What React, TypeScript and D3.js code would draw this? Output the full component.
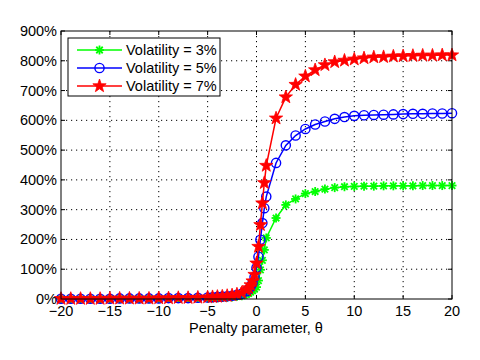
import React from 'react'
import * as d3 from 'd3'

// theta values (denser around zero)
const thetas = [
  -20, -19, -18, -17, -16, -15, -14, -13, -12, -11, -10, -9, -8, -7, -6, -5,
  -4.5, -4, -3.5, -3, -2.5, -2, -1.5, -1,
  -0.8, -0.6, -0.4, -0.2, 0, 0.2, 0.4, 0.6, 0.8, 1,
  2, 3, 4, 5, 6, 7, 8, 9, 10, 11, 12, 13, 14, 15, 16, 17, 18, 19, 20,
]

// values in percent
const vol3 = [
  0, 0, 0, 0, 0, 1, 1, 1, 1, 1, 1, 2, 2, 2, 3, 3,
  4, 4, 5, 6, 7, 9, 11, 16,
  19, 23, 28, 33, 40, 62, 98, 130, 165, 205,
  272, 316, 336, 354, 361, 369, 374, 377, 378, 379, 379, 380, 380, 380, 380, 381, 381, 381, 381,
]
const vol5 = [
  1, 1, 1, 1, 1, 1, 2, 2, 2, 2, 2, 3, 3, 3, 4, 5,
  6, 7, 8, 9, 11, 14, 18, 26,
  33, 42, 54, 74, 105, 142, 199, 255, 305, 344,
  457, 516, 549, 571, 586, 596, 605, 611, 615, 617, 618, 619, 620, 621, 622, 622, 623, 623, 624,
]
const vol7 = [
  1, 1, 1, 1, 1, 2, 2, 2, 2, 2, 3, 3, 4, 4, 5, 6,
  7, 8, 9, 11, 13, 16, 21, 30,
  37, 47, 60, 82, 120, 176, 249, 322, 390, 448,
  607, 678, 720, 748, 769, 786, 796, 801, 805, 809, 812, 813, 815, 816, 817, 818, 818, 819, 819,
]

const seriesNames = ['Volatility = 3%', 'Volatility = 5%', 'Volatility = 7%']
const seriesColors = ['#00ff00', '#0000ff', '#ff0000']
const xTicks = [-20, -15, -10, -5, 0, 5, 10, 15, 20]
const yTicks = [0, 100, 200, 300, 400, 500, 600, 700, 800, 900]

const font = 'Liberation Sans, Arial, Helvetica, sans-serif'

const starPath = (r: number) => {
  let pts: string[] = []
  for (let i = 0; i < 10; i++) {
    let rr = i % 2 === 0 ? r : r * 0.4
    let a = -Math.PI / 2 + (i * Math.PI) / 5
    pts.push(`${(rr * Math.cos(a)).toFixed(2)},${(rr * Math.sin(a)).toFixed(2)}`)
  }
  return 'M' + pts.join('L') + 'Z'
}

const Marker = ({ kind, x, y, color }: { kind: number; x: number; y: number; color: string }) => {
  if (kind === 0) {
    let r = 4.5
    let d = r * 0.72
    return (
      <g transform={`translate(${x},${y})`} stroke={color} strokeWidth={1.8}>
        <line x1={-r} y1={0} x2={r} y2={0} />
        <line x1={0} y1={-r} x2={0} y2={r} />
        <line x1={-d} y1={-d} x2={d} y2={d} />
        <line x1={-d} y1={d} x2={d} y2={-d} />
      </g>
    )
  }
  if (kind === 1) {
    return <circle cx={x} cy={y} r={4.6} fill="none" stroke={color} strokeWidth={1.4} />
  }
  return <path transform={`translate(${x},${y})`} d={starPath(7)} fill={color} stroke={color} strokeWidth={0.8} />
}

export default function App() {
  const width = 480
  const height = 360
  const left = 61, right = 452, top = 31, bottom = 299

  const x = d3.scaleLinear().domain([-20, 20]).range([left, right])
  const y = d3.scaleLinear().domain([0, 900]).range([bottom, top])

  const line = d3.line<number>()
    .x((d, i) => x(thetas[i]))
    .y((d) => y(d))

  const allSeries = [vol3, vol5, vol7]
  const fmtX = (v: number) => (v < 0 ? '\u2212' + Math.abs(v) : String(v))

  return (
    <svg width={width} height={height} style={{ position: 'absolute', left: 0, top: 0, background: '#fff' }}>
      <rect x={0} y={0} width={width} height={height} fill="#fff" />
      {/* grid */}
      <g stroke="#000" strokeWidth={1} strokeDasharray="1.2,3.8">
        {xTicks.slice(1, -1).map((t) => (
          <line key={'gx' + t} x1={x(t)} x2={x(t)} y1={top} y2={bottom} />
        ))}
        {yTicks.slice(1, -1).map((t) => (
          <line key={'gy' + t} x1={left} x2={right} y1={y(t)} y2={y(t)} />
        ))}
      </g>
      {/* ticks */}
      <g stroke="#000" strokeWidth={1}>
        {xTicks.map((t) => (
          <g key={'tx' + t}>
            <line x1={x(t)} x2={x(t)} y1={bottom} y2={bottom - 4} />
            <line x1={x(t)} x2={x(t)} y1={top} y2={top + 4} />
          </g>
        ))}
        {yTicks.map((t) => (
          <g key={'ty' + t}>
            <line x1={left} x2={left + 4} y1={y(t)} y2={y(t)} />
            <line x1={right} x2={right - 4} y1={y(t)} y2={y(t)} />
          </g>
        ))}
      </g>
      {/* series */}
      {allSeries.map((s, k) => (
        <g key={'s' + k}>
          <path d={line(s) || ''} fill="none" stroke={seriesColors[k]} strokeWidth={1.5} />
          {s.map((v, i) => (
            <Marker key={i} kind={k} x={x(thetas[i])} y={y(v)} color={seriesColors[k]} />
          ))}
        </g>
      ))}
      <rect x={left} y={top} width={right - left} height={bottom - top} fill="none" stroke="#000" strokeWidth={1} />
      {/* tick labels */}
      <g fontFamily={font} fontSize={14.5} fill="#000">
        {xTicks.map((t) => (
          <text key={'lx' + t} x={x(t)} y={316} textAnchor="middle">{fmtX(t)}</text>
        ))}
        {yTicks.map((t) => (
          <text key={'ly' + t} x={57} y={y(t) + 5} textAnchor="end">{t + '%'}</text>
        ))}
        <text x={256} y={333} textAnchor="middle">Penalty parameter, θ</text>
      </g>
      {/* legend */}
      <rect x={68} y={38} width={152} height={58} fill="#fff" stroke="#000" strokeWidth={1} />
      {seriesNames.map((name, k) => {
        let ly = 50 + k * 18
        return (
          <g key={'lg' + k}>
            <line x1={77} x2={122} y1={ly} y2={ly} stroke={seriesColors[k]} strokeWidth={1.5} />
            <Marker kind={k} x={99.5} y={ly} color={seriesColors[k]} />
            <text x={126} y={ly + 5} fontFamily={font} fontSize={14.5} fill="#000">{name}</text>
          </g>
        )
      })}
    </svg>
  )
}
